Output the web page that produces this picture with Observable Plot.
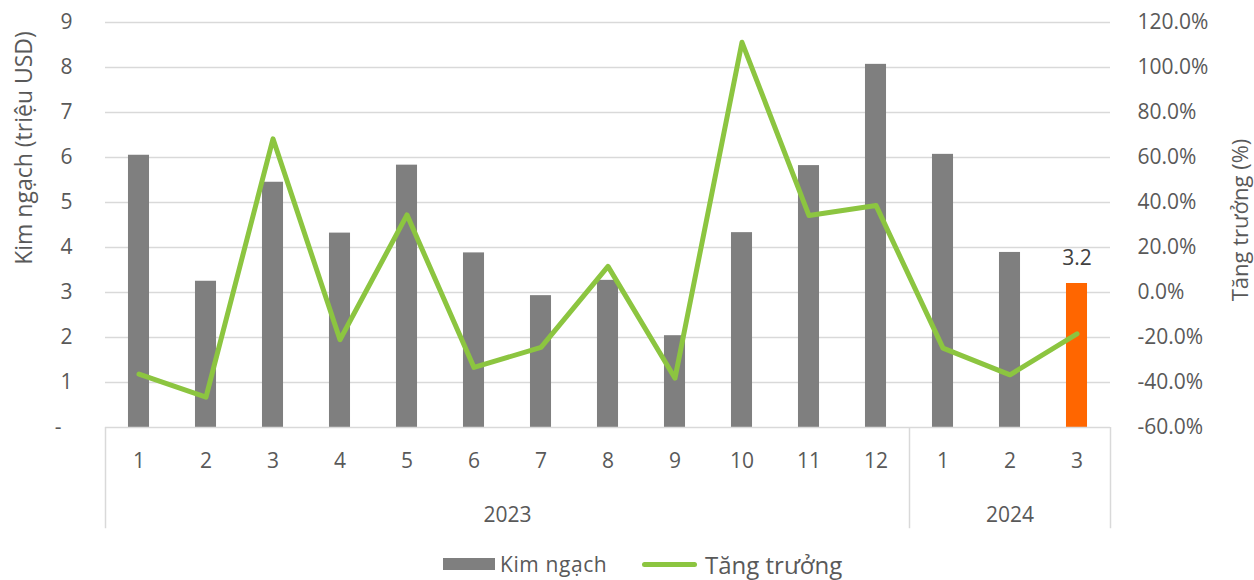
<!DOCTYPE html>
<html>
<head>
<meta charset="utf-8">
<script src="https://cdn.jsdelivr.net/npm/d3@7"></script>
<script src="https://cdn.jsdelivr.net/npm/@observablehq/plot@0.6"></script>
<style>
  html, body { margin: 0; padding: 0; background: #fff; }
  #wrap { position: relative; width: 1254px; height: 580px; font-family: 'Open Sans', sans-serif; color: #595959; }
  #legend { position: absolute; left: 0; top: 548px; width: 1254px; height: 32px; }
  .item { position: absolute; top: 0; height: 32px; display: flex; align-items: center; white-space: nowrap; }
  .sw-bar { width: 52px; height: 12px; background: #7f7f7f; margin-right: 5px; }
  .sw-line { width: 55px; height: 5px; border-radius: 3px; background: #8cc540; margin-right: 8px; }
</style>
</head>
<body>
<div id="wrap">
  <div id="chart"></div>
  <div id="legend">
    <div class="item" style="left:443px"><span class="sw-bar"></span><span style="font-size:21px;letter-spacing:0.6px">Kim ngạch</span></div>
    <div class="item" style="left:642px"><span class="sw-line"></span><span style="font-size:24px">Tăng trưởng</span></div>
  </div>
</div>
<script>
// ---- data ----
const months = ["1","2","3","4","5","6","7","8","9","10","11","12","1","2","3"];
const years = ["2023","2023","2023","2023","2023","2023","2023","2023","2023","2023","2023","2023","2024","2024","2024"];
const kimNgach = [6.05, 3.25, 5.45, 4.32, 5.83, 3.88, 2.93, 3.27, 2.04, 4.33, 5.82, 8.07, 6.07, 3.89, 3.2];
const tangTruong = [-36.3, -46.5, 68.3, -21.0, 34.5, -33.3, -24.4, 11.6, -38.1, 111.2, 34.2, 38.7, -24.7, -36.6, -18.4];
const leftTicks = [0, 1, 2, 3, 4, 5, 6, 7, 8, 9];
const rightTicks = [-60, -40, -20, 0, 20, 40, 60, 80, 100, 120];

// ---- derived tables ----
const data = kimNgach.map((v, i) => ({i, month: months[i], year: years[i], value: v, growth: tangTruong[i], last: i === kimNgach.length - 1}));
const yearGroups = [];
years.forEach((y, i) => {
  const g = yearGroups.find(d => d.year === y);
  if (g) g.to = i; else yearGroups.push({year: y, from: i, to: i});
});
const boundaries = [yearGroups[0].from - 0.5, ...yearGroups.map(g => g.to + 0.5)];

// growth (%) mapped onto the left scale: right axis spans -60..120 over 0..9
const gMin = rightTicks[0], gMax = rightTicks[rightTicks.length - 1];
const toLeft = g => (g - gMin) / (gMax - gMin) * leftTicks[leftTicks.length - 1];

const half = 0.157;
const chart = Plot.plot({
  width: 1254,
  height: 548,
  marginLeft: 105,
  marginRight: 144,
  marginTop: 22,
  marginBottom: 121,
  style: {fontFamily: "'Open Sans', sans-serif", fontSize: "21px", color: "#595959", background: "white", overflow: "visible"},
  x: {type: "linear", domain: [-0.5, kimNgach.length - 0.5], axis: null},
  y: {domain: [0, 9], axis: null},
  marks: [
    Plot.ruleY(leftTicks.slice(1), {stroke: "#d9d9d9", strokeWidth: 1.5}),
    Plot.rectY(data, {x1: d => d.i - half, x2: d => d.i + half, y1: 0, y2: "value", fill: d => d.last ? "#ff6600" : "#7f7f7f"}),
    Plot.ruleY([0], {stroke: "#d9d9d9", strokeWidth: 1.5}),
    Plot.ruleX(boundaries, {y1: 0, y2: -2.25, stroke: "#d9d9d9", strokeWidth: 1.5}),
    Plot.line(data, {x: "i", y: d => toLeft(d.growth), stroke: "#8cc540", strokeWidth: 5, strokeLinejoin: "round", strokeLinecap: "round"}),
    Plot.text(data.filter(d => d.last), {x: "i", y: "value", text: d => d.value.toFixed(1), dy: -25, fontSize: 21, fill: "#404040"}),
    Plot.axisY({anchor: "left", label: null, ticks: leftTicks, tickSize: 0, tickPadding: 33, fontSize: 21,
      tickFormat: d => d === 0 ? "-\u00a0\u00a0" : String(d)}),
    Plot.axisY({anchor: "right", label: null, ticks: leftTicks, tickSize: 0, tickPadding: 27, fontSize: 21,
      tickFormat: (d, k) => rightTicks[k].toFixed(1) + "%"}),
    Plot.axisX({label: null, ticks: data.map(d => d.i), tickSize: 0, tickPadding: 26, fontSize: 21,
      tickFormat: i => months[i]}),
    Plot.text(yearGroups, {x: d => (d.from + d.to) / 2, y: -1.96, text: "year", fontSize: 21, fill: "#595959"}),
    Plot.text(["Kim ngạch (triệu USD)"], {frameAnchor: "left", textAnchor: "middle", dx: -81, dy: -77, rotate: -90, fontSize: 23, fill: "#595959"}),
    Plot.text(["Tăng trưởng (%)"], {frameAnchor: "right", textAnchor: "middle", dx: 130, dy: -5, rotate: -90, fontSize: 22, fill: "#595959"})
  ]
});
document.getElementById("chart").append(chart);
</script>
</body>
</html>
